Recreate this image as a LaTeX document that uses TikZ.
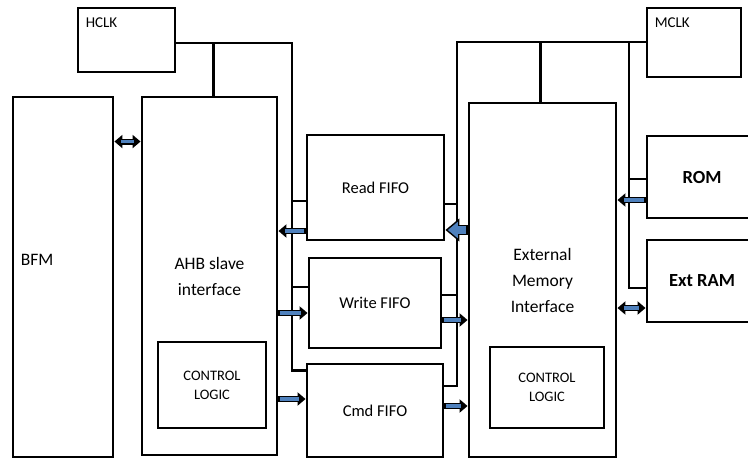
\documentclass[tikz,border=0pt]{standalone}
\usepackage{fontspec}
\setmainfont{Carlito}
\usetikzlibrary{arrows.meta,calc}
\definecolor{arrowblue}{HTML}{4F81BD}

\begin{document}
\begin{tikzpicture}[x=1pt,y=-1pt,
    blk/.style={draw,line width=2.9pt,inner sep=0pt,align=center},
    fifo/.style={blk,font=\fontsize{16.5}{19}\selectfont},
    big/.style={blk,font=\fontsize{17.5}{26}\selectfont},
    small/.style={blk,font=\fontsize{14.5}{19}\selectfont},
    mem/.style={blk,font=\bfseries\fontsize{18.5}{20}\selectfont},
    clklab/.style={anchor=north west,inner sep=0pt,xshift=9pt,yshift=-11pt,font=\fontsize{15}{16}\selectfont},
    wire/.style={line width=2.5pt},
    flow/.style={line width=6pt,-{Triangle[length=8pt,width=13pt]},
        postaction={draw=arrowblue,line width=3.2pt,-,shorten >=7pt,shorten <=1.4pt}},
    dflow/.style={line width=6pt,{Triangle[length=8pt,width=13pt]}-{Triangle[length=8pt,width=13pt]},
        postaction={draw=arrowblue,line width=3.2pt,-,shorten >=7pt,shorten <=7pt}},
    bigflow/.style={line width=10.5pt,-{Triangle[length=14pt,width=23pt,line width=1.4pt,fill=arrowblue]},
        postaction={draw=arrowblue,line width=7.6pt,-,shorten >=12pt,shorten <=1.4pt}}]
\useasboundingbox (0,0) rectangle (748,459);

% boxes
\node[small,minimum width=97,minimum height=64,label={[clklab]north west:HCLK}] (hclk) at (126.5,40) {};
\node[small,minimum width=94,minimum height=69,label={[clklab]north west:MCLK}] (mclk) at (694,42.5) {};
\node[big,minimum width=100,minimum height=360,
      label={[anchor=west,inner sep=0pt,xshift=9pt,yshift=17pt,font=\fontsize{17.5}{20}\selectfont]west:BFM}] (bfm) at (63,277) {};
\node[big,minimum width=135,minimum height=358] (ahb) at (209.5,276) {AHB slave\\interface};
\node[small,minimum width=108,minimum height=86] (ahbctl) at (212,385) {CONTROL\\LOGIC};
\node[fifo,minimum width=137,minimum height=105] (rfifo) at (375.5,187.5) {Read FIFO};
\node[fifo,minimum width=132,minimum height=90] (wfifo) at (375,303) {Write FIFO};
\node[fifo,minimum width=136,minimum height=93] (cfifo) at (375,410.5) {Cmd FIFO};
\node[big,minimum width=147,minimum height=354] (emi) at (542.5,280) {External\\Memory\\Interface};
\node[small,minimum width=114,minimum height=81] (emictl) at (547,387.5) {CONTROL\\LOGIC};
\node[mem,minimum width=110,minimum height=82] (rom) at (702,177) {ROM};
\node[mem,minimum width=110,minimum height=82] (extram) at (702,281) {Ext RAM};

% HCLK lines
\coordinate (hbus) at (292,43);
\draw[wire] (hclk.east |- hbus) -- (hbus) |- ($(cfifo.north west)+(0,8)$);
\draw[wire] ($(ahb.north)+(4,0)$) |- (hbus);
\foreach \fifo/\dy in {rfifo/13.5,wfifo/-16}
  \draw[wire] ($(\fifo.west)+(0,\dy)$) -| (hbus);

% MCLK lines
\coordinate (mbus) at (457,42);
\coordinate (mtap) at (629,42);
\draw[wire] (mclk.west |- mbus) -- (mbus) |- ($(cfifo.east)+(0,-24.5)$);
\draw[wire] ($(emi.north)+(-2,0)$) |- (mbus);
\foreach \fifo/\dy in {rfifo/16.5,wfifo/-8}
  \draw[wire] ($(\fifo.east)+(0,\dy)$) -| (mbus);
\draw[wire] (mtap) |- ($(extram.west)+(0,7)$);
\draw[wire] ($(rom.west)+(0,2)$) -| (mtap);

% data arrows
\path ($(bfm.north east)+(0,46)$) coordinate (a0)
      ($(rfifo.west)+(0,43.5)$) coordinate (a1)
      ($(wfifo.west)+(0,10)$) coordinate (a2)
      ($(cfifo.west)+(0,-11.5)$) coordinate (a3)
      ($(rfifo.east)+(0,42.5)$) coordinate (a4)
      ($(wfifo.east)+(0,17)$) coordinate (a5)
      ($(cfifo.east)+(0,-4.5)$) coordinate (a6)
      ($(rom.west)+(0,23)$) coordinate (a7)
      ($(extram.west)+(0,27)$) coordinate (a8);
\draw[dflow] (a0) -- (a0 -| ahb.west);
\draw[flow] (a1) -- (a1 -| ahb.east);
\draw[flow] (a2 -| ahb.east) -- (a2);
\draw[flow] (a3 -| ahb.east) -- (a3);
\draw[bigflow] (a4 -| emi.west) -- (a4);
\draw[flow] (a5) -- (a5 -| emi.west);
\draw[flow] (a6) -- (a6 -| emi.west);
\draw[flow] (a7) -- (a7 -| emi.east);
\draw[dflow] (a8 -| emi.east) -- (a8);

\end{tikzpicture}
\end{document}
